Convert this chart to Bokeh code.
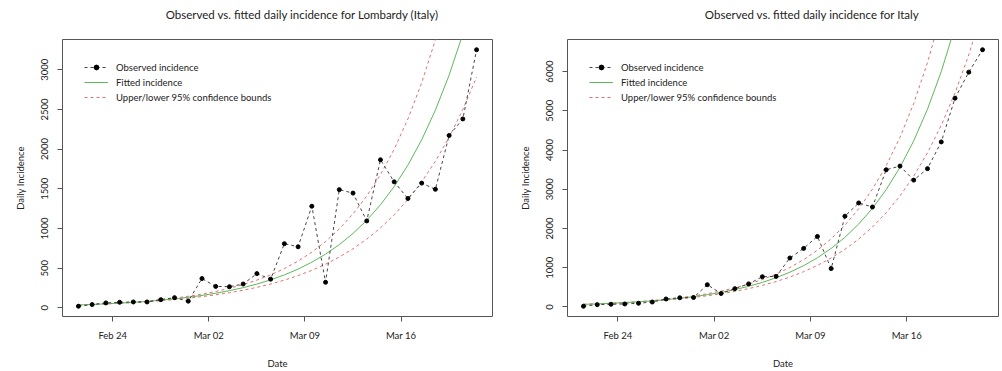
import pandas as pd
from bokeh.plotting import figure
from bokeh.layouts import row, column
from bokeh.core.properties import value
from bokeh.models import (FixedTicker, DatetimeTickFormatter, Range1d, Legend, LegendItem)
from bokeh.embed import file_html
from bokeh.resources import INLINE

# ---------------- data ----------------
dates = pd.date_range("2020-02-21", "2020-03-21", freq="D")
tick_dates = ["2020-02-24", "2020-03-02", "2020-03-09", "2020-03-16"]

lomb_title = "Observed vs. fitted daily incidence for Lombardy (Italy)"
lomb_obs = [20, 41, 62, 70, 74, 74, 103, 128, 84, 369, 270, 266, 300, 431, 361,
            808, 769, 1280, 322, 1489, 1445, 1095, 1865, 1587, 1377, 1571, 1493,
            2171, 2380, 3251]
lomb_fit = [36, 42, 50, 59, 69, 81, 96, 113, 133, 156, 184, 216, 254, 299, 352,
            415, 488, 575, 676, 796, 937, 1103, 1298, 1528, 1798, 2116, 2490,
            2931, 3450, 4061]
lomb_upper = [36, 43, 51, 61, 72, 86, 103, 122, 146, 173, 206, 246, 293, 349, 415,
              494, 589, 701, 835, 994, 1183, 1409, 1678, 1998, 2380, 2834, 3375,
              4018, 4785, 5698]
lomb_lower = [36, 42, 49, 57, 66, 77, 89, 104, 121, 141, 164, 190, 222, 258, 300,
              349, 406, 472, 550, 640, 744, 866, 1007, 1172, 1364, 1587, 1846,
              2148, 2499, 2908]
lomb_yticks = [0, 500, 1000, 1500, 2000, 2500, 3000]

italy_title = "Observed vs. fitted daily incidence for Italy"
italy_obs = [17, 58, 67, 75, 93, 125, 202, 233, 240, 566, 342, 466, 587, 769, 778,
             1247, 1492, 1797, 977, 2313, 2651, 2547, 3497, 3590, 3233, 3526,
             4207, 5322, 5986, 6557]
italy_fit = [65, 77, 92, 110, 130, 155, 185, 220, 262, 311, 370, 441, 525, 625, 743,
             885, 1052, 1253, 1491, 1774, 2112, 2513, 2991, 3559, 4236, 5041, 6000,
             7141, 8499, 10117]
italy_upper = [65, 78, 94, 112, 135, 162, 194, 233, 280, 336, 403, 484, 581, 697,
               837, 1004, 1205, 1446, 1736, 2084, 2501, 3001, 3602, 4323, 5189,
               6228, 7475, 8971, 10767, 12923]
italy_lower = [65, 77, 90, 106, 125, 148, 174, 205, 242, 285, 335, 395, 466, 549,
               646, 762, 898, 1058, 1246, 1468, 1730, 2039, 2402, 2830, 3335, 3930,
               4630, 5456, 6429, 7575]
italy_yticks = [0, 1000, 2000, 3000, 4000, 5000, 6000]

FONT = "Lato"
TXT = "#222222"
BOX = "#555555"
GREEN = "#5cb85c"
RED = "#e07070"

TITLE_H = 28

x = dates + pd.Timedelta(hours=12)


def ms(t):
    return pd.Timestamp(t).value / 1e6


def title_fig(text, width, left):
    t = figure(width=width, height=TITLE_H, x_range=Range1d(0, width),
               y_range=Range1d(0, TITLE_H), output_backend="svg", toolbar_location=None,
               min_border=0, title=None, x_axis_location=None, y_axis_location=None)
    t.grid.visible = False
    t.outline_line_color = None
    t.background_fill_color = "white"
    t.border_fill_color = "white"
    t.text(x=[left], y=[TITLE_H - 14], text=[text], text_font=value(FONT),
           text_font_size="11.5px", text_color=TXT, text_align="left",
           text_baseline="middle")
    return t


def make(obs, fit, up, lo, yticks, width, bl, br):
    span = x[-1] - x[0]
    xr = Range1d(start=x[0] - 0.04 * span, end=x[-1] + 0.04 * span)
    ymin, ymax = min(obs), max(obs)
    yr = Range1d(start=ymin - 0.04 * (ymax - ymin), end=ymax + 0.04 * (ymax - ymin))
    p = figure(width=width, height=371 - TITLE_H, x_axis_type="datetime", x_range=xr,
               y_range=yr, output_backend="svg", toolbar_location=None, title=None,
               min_border_left=bl, min_border_right=br, min_border_top=39 - TITLE_H,
               min_border_bottom=50)
    p.outline_line_color = BOX
    p.outline_line_width = 1
    p.grid.visible = False
    p.background_fill_color = "white"
    p.border_fill_color = "white"

    for ax in (p.xaxis[0], p.yaxis[0]):
        ax.axis_line_color = None
        ax.major_tick_out = 5
        ax.major_tick_in = 0
        ax.major_tick_line_color = BOX
        ax.minor_tick_line_color = None
        ax.major_label_text_font = FONT
        ax.major_label_text_font_size = "9.5px"
        ax.major_label_text_color = TXT
        ax.axis_label_text_font = FONT
        ax.axis_label_text_font_size = "9.5px"
        ax.axis_label_text_font_style = "normal"
        ax.axis_label_text_color = TXT

    p.xaxis.ticker = FixedTicker(ticks=[ms(t) for t in tick_dates])
    p.xaxis.formatter = DatetimeTickFormatter(days="%b %d", months="%b %d",
                                              hours="%b %d", years="%b %d")
    p.xaxis.axis_label = "Date"
    p.xaxis.major_label_standoff = 8
    p.xaxis.axis_label_standoff = 14

    p.yaxis.ticker = FixedTicker(ticks=yticks)
    p.yaxis.major_label_orientation = "vertical"
    p.yaxis.axis_label = "Daily Incidence"
    p.yaxis.major_label_standoff = 9
    p.yaxis.axis_label_standoff = 13

    r_up = p.line(x, up, line_color=RED, line_width=1, line_dash="3 3")
    r_lo = p.line(x, lo, line_color=RED, line_width=1, line_dash="3 3")
    r_fit = p.line(x, fit, line_color=GREEN, line_width=1)
    r_obs_l = p.line(x, obs, line_color="#444444", line_width=1, line_dash="3 3")
    r_obs_p = p.scatter(x, obs, size=4, fill_color="black", line_color="black")

    legend = Legend(items=[
        LegendItem(label="Observed incidence", renderers=[r_obs_l, r_obs_p]),
        LegendItem(label="Fitted incidence", renderers=[r_fit]),
        LegendItem(label="Upper/lower 95% confidence bounds", renderers=[r_up]),
    ], location="top_left")
    legend.border_line_color = None
    legend.background_fill_alpha = 0
    legend.label_text_font = FONT
    legend.label_text_font_size = "9.5px"
    legend.label_text_color = TXT
    legend.glyph_width = 24
    legend.glyph_height = 12
    legend.label_height = 12
    legend.label_standoff = 8
    legend.spacing = 3
    legend.padding = 0
    legend.margin = 22
    p.add_layout(legend)
    return p


p1 = make(lomb_obs, lomb_fit, lomb_upper, lomb_lower, lomb_yticks, 500, 62, 8)
p2 = make(italy_obs, italy_fit, italy_upper, italy_lower, italy_yticks, 502, 67, 4)
t1 = title_fig(lomb_title, 500, 120)
t2 = title_fig(italy_title, 502, 160)

layout = row(column(t1, p1, spacing=0), column(t2, p2, spacing=0), spacing=0)
open("out.html", "w").write(file_html(layout, INLINE))
